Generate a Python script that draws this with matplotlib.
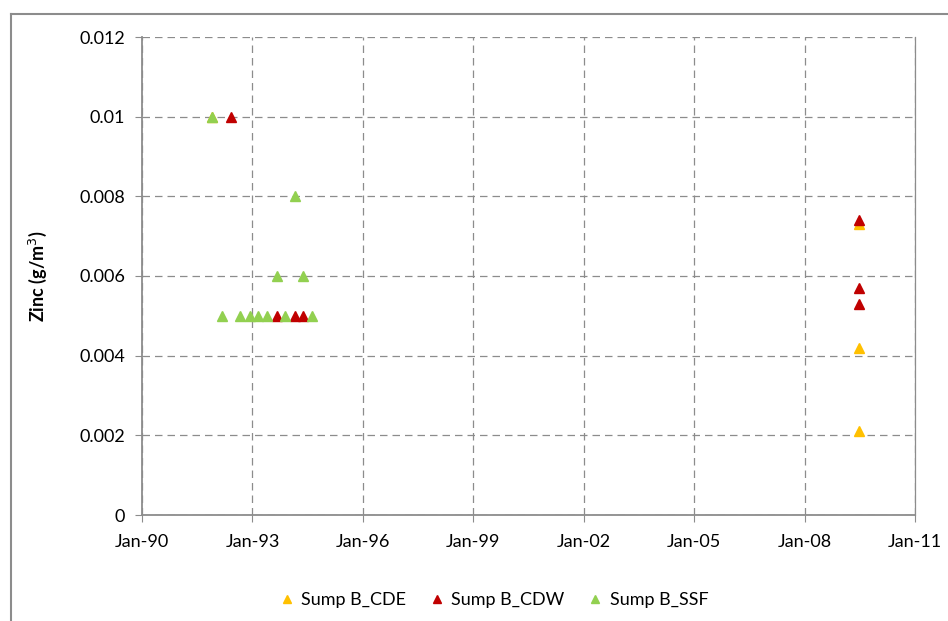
import datetime as dt
import matplotlib
matplotlib.use('Agg')
import matplotlib.pyplot as plt
import matplotlib.dates as mdates
from matplotlib.lines import Line2D

plt.rcParams['font.family'] = ['Lato', 'DejaVu Sans']

# Sump B_CDE
cde_dates = [dt.date(1991, 11, 26), dt.date(2009, 6, 26), dt.date(2009, 6, 26), dt.date(2009, 6, 26)]
cde_vals = [0.01, 0.0073, 0.0042, 0.0021]

# Sump B_CDW
cdw_dates = [dt.date(1992, 5, 29), dt.date(1993, 8, 28), dt.date(1994, 2, 24), dt.date(1994, 5, 18),
             dt.date(2009, 6, 26), dt.date(2009, 6, 26), dt.date(2009, 6, 26)]
cdw_vals = [0.01, 0.005, 0.005, 0.005, 0.0074, 0.0057, 0.0053]

# Sump B_SSF
ssf_dates = [dt.date(1991, 11, 26), dt.date(1992, 3, 1), dt.date(1992, 8, 28), dt.date(1992, 12, 5),
             dt.date(1993, 2, 28), dt.date(1993, 5, 29), dt.date(1993, 8, 28), dt.date(1993, 11, 24),
             dt.date(1994, 2, 24), dt.date(1994, 5, 18), dt.date(1994, 8, 18)]
ssf_vals = [0.01, 0.005, 0.005, 0.005, 0.005, 0.005, 0.006, 0.005, 0.008, 0.006, 0.005]

x_ticks = [dt.date(y, 1, 1) for y in [1990, 1993, 1996, 1999, 2002, 2005, 2008, 2011]]
y_ticks = [0, 0.002, 0.004, 0.006, 0.008, 0.01, 0.012]
y_labels = ['0', '0.002', '0.004', '0.006', '0.008', '0.01', '0.012']

fig = plt.figure(figsize=(9.48, 6.21), dpi=100)
ax = fig.add_axes([142 / 948, 106 / 621, 773 / 948, 478 / 621])

ms = 6.5
ax.plot(cde_dates, cde_vals, '^', color='#FFC000', ms=ms, label='Sump B_CDE')
ax.plot(cdw_dates, cdw_vals, '^', color='#C00000', ms=ms, label='Sump B_CDW')
ax.plot(ssf_dates, ssf_vals, '^', color='#92D050', ms=ms, label='Sump B_SSF')

ax.set_xlim(x_ticks[0], x_ticks[-1])
ax.set_ylim(0, 0.012)
ax.set_xticks(x_ticks)
ax.xaxis.set_major_formatter(mdates.DateFormatter('%b-%y'))
ax.set_yticks(y_ticks)
ax.set_yticklabels(y_labels)

ax.grid(True, color='#8c8c8c', linestyle=(0, (6, 4)), linewidth=0.9)
ax.set_axisbelow(True)
ax.spines['top'].set_visible(False)
for s in ['left', 'bottom', 'right']:
    ax.spines[s].set_color('#8c8c8c')
ax.spines['left'].set_linewidth(1.3)
ax.spines['bottom'].set_linewidth(1.3)
ax.spines['right'].set_linewidth(0.9)
ax.tick_params(axis='both', colors='#8c8c8c', labelcolor='black', labelsize=13, length=5)
ax.tick_params(axis='x', pad=9)
ax.tick_params(axis='y', pad=7)

ax.set_ylabel('Zinc (g/m$^3$)', fontsize=13, fontweight='bold', labelpad=22)

fig.legend(loc='center', bbox_to_anchor=(0.52, 0.034), ncol=3, frameon=False,
           fontsize=13, handletextpad=0.3, columnspacing=1.2, markerscale=0.8, handlelength=1.0)

# outer chart border
fig.add_artist(Line2D([11 / 948, 11 / 948], [0, 1 - 14 / 621], transform=fig.transFigure,
                      color='#8c8c8c', lw=1.5))
fig.add_artist(Line2D([11 / 948, 1], [1 - 14 / 621, 1 - 14 / 621], transform=fig.transFigure,
                      color='#8c8c8c', lw=1.5))

fig.savefig('out.png', dpi=100)
